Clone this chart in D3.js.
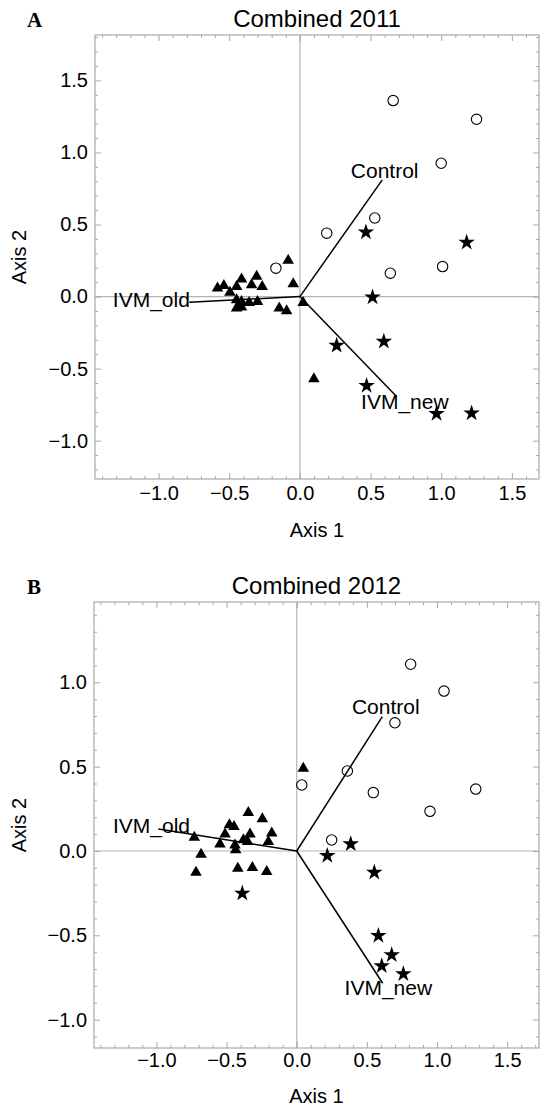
<!DOCTYPE html>
<html>
<head>
<meta charset="utf-8">
<script src="https://cdn.jsdelivr.net/npm/d3@7"></script>
<style>
  body { margin: 0; background: #fff; }
  text { font-family: "Liberation Sans", Arial, sans-serif; fill: #000; }
</style>
</head>
<body>
<script>
// ---- data (axis units) ----
const titles = ["Combined 2011", "Combined 2012"];
const panelLetters = ["A", "B"];
const xTicks = [-1.0, -0.5, 0.0, 0.5, 1.0, 1.5];
const yTicksA = [-1.0, -0.5, 0.0, 0.5, 1.0, 1.5];
const yTicksB = [-1.0, -0.5, 0.0, 0.5, 1.0];

// 2011: open circles, stars, triangles
const controlA = [[0.66, 1.36], [1.25, 1.23], [1.0, 0.925], [0.53, 0.545], [0.19, 0.44],
  [-0.17, 0.197], [0.64, 0.162], [1.01, 0.208]];
const ivmNewA = [[0.467, 0.447], [1.18, 0.375], [0.514, -0.004], [0.26, -0.34], [0.594, -0.312],
  [0.472, -0.619], [0.967, -0.813], [1.215, -0.809]];
const ivmOldA = [[-0.083, 0.25], [-0.047, 0.088], [-0.413, 0.12], [-0.306, 0.139], [-0.342, 0.081],
  [-0.267, 0.069], [-0.583, 0.058], [-0.538, 0.076], [-0.495, 0.028], [-0.448, 0.069],
  [-0.448, -0.023], [-0.413, -0.035], [-0.359, -0.042], [-0.3, -0.035], [-0.448, -0.08],
  [-0.413, -0.074], [-0.146, -0.08], [-0.094, -0.1], [0.023, -0.042], [0.099, -0.571]];
const vectorsA = [
  { name: "Control", x: 0.583, y: 0.81, lx: 0.60, ly: 0.874 },
  { name: "IVM_old", x: -0.783, y: -0.04, lx: -1.051, ly: -0.023 },
  { name: "IVM_new", x: 0.684, y: -0.693, lx: 0.743, ly: -0.73 }
];

// 2012
const controlB = [[0.812, 1.107], [1.05, 0.948], [0.70, 0.76], [0.361, 0.474], [0.036, 0.391],
  [0.546, 0.346], [1.276, 0.367], [0.95, 0.235], [0.249, 0.065]];
const ivmNewB = [[0.218, -0.028], [0.385, 0.041], [0.553, -0.127], [-0.388, -0.251],
  [0.582, -0.502], [0.677, -0.616], [0.606, -0.682], [0.76, -0.729]];
const ivmOldB = [[0.047, 0.49], [-0.345, 0.227], [-0.245, 0.19], [-0.48, 0.154], [-0.447, 0.144],
  [-0.73, 0.081], [-0.682, -0.02], [-0.718, -0.127], [-0.547, 0.04], [-0.511, 0.1],
  [-0.44, 0.034], [-0.435, 0.006], [-0.38, 0.065], [-0.333, 0.1], [-0.35, 0.055],
  [-0.178, 0.105], [-0.202, 0.055], [-0.42, -0.103], [-0.316, -0.099], [-0.214, -0.123]];
const vectorsB = [
  { name: "Control", x: 0.61, y: 0.796, lx: 0.635, ly: 0.854 },
  { name: "IVM_old", x: -0.986, y: 0.13, lx: -1.035, ly: 0.154 },
  { name: "IVM_new", x: 0.613, y: -0.784, lx: 0.653, ly: -0.812 }
];

// ---- layout ----
const width = 542, height = 1108;
const svg = d3.select("body").append("svg")
    .attr("width", width)
    .attr("height", height);

const panels = [
  { title: titles[0], letter: panelLetters[0], left: 95, right: 539, top: 35, bottom: 479,
    xDomain: [-1.45, 1.692], yDomain: [-1.266, 1.815], yTicks: yTicksA, tickPad: 7, labelGap: 58,
    control: controlA, ivmNew: ivmNewA, ivmOld: ivmOldA, vectors: vectorsA },
  { title: titles[1], letter: panelLetters[1], left: 94, right: 539, top: 602, bottom: 1048,
    xDomain: [-1.445, 1.727], yDomain: [-1.168, 1.476], yTicks: yTicksB, tickPad: 5, labelGap: 55,
    control: controlB, ivmNew: ivmNewB, ivmOld: ivmOldB, vectors: vectorsB }
];

const frameColor = "#a8a8a8";
const fmt = d3.format(".1f");

function minorTicks(domain, majors) {
  const out = [];
  for (let i = Math.ceil(domain[0] * 10); i <= Math.floor(domain[1] * 10); i++) {
    const v = i / 10;
    if (!majors.some(m => Math.abs(m - v) < 1e-6)) out.push(v);
  }
  return out;
}

function styleAxis(sel) {
  sel.select(".domain").remove();
  sel.selectAll(".tick line").attr("stroke", frameColor);
  sel.selectAll(".tick text").style("font-size", "20px").attr("fill", "#000");
}

function drawPanel(p) {
  const g = svg.append("g");
  const x = d3.scaleLinear().domain(p.xDomain).range([p.left, p.right]);
  const y = d3.scaleLinear().domain(p.yDomain).range([p.bottom, p.top]);

  // zero lines
  g.append("line")
      .attr("x1", x(0)).attr("x2", x(0))
      .attr("y1", p.top).attr("y2", p.bottom)
      .attr("stroke", "#b4b4b4").attr("stroke-width", 1.2);
  g.append("line")
      .attr("x1", p.left).attr("x2", p.right)
      .attr("y1", y(0)).attr("y2", y(0))
      .attr("stroke", "#b4b4b4").attr("stroke-width", 1.2);

  // ticks on all four sides, pointing in
  const xMinor = minorTicks(p.xDomain, xTicks);
  const yMinor = minorTicks(p.yDomain, p.yTicks);

  g.append("g").attr("transform", `translate(0,${p.bottom})`)
      .call(d3.axisBottom(x).tickValues(xTicks).tickSize(-6).tickPadding(p.tickPad).tickFormat(fmt))
      .call(styleAxis);
  g.append("g").attr("transform", `translate(0,${p.bottom})`)
      .call(d3.axisBottom(x).tickValues(xMinor).tickSize(-3).tickFormat(""))
      .call(styleAxis);
  g.append("g").attr("transform", `translate(0,${p.top})`)
      .call(d3.axisTop(x).tickValues(xTicks).tickSize(-6).tickFormat(""))
      .call(styleAxis);
  g.append("g").attr("transform", `translate(0,${p.top})`)
      .call(d3.axisTop(x).tickValues(xMinor).tickSize(-3).tickFormat(""))
      .call(styleAxis);

  g.append("g").attr("transform", `translate(${p.left},0)`)
      .call(d3.axisLeft(y).tickValues(p.yTicks).tickSize(-6).tickPadding(7).tickFormat(fmt))
      .call(styleAxis);
  g.append("g").attr("transform", `translate(${p.left},0)`)
      .call(d3.axisLeft(y).tickValues(yMinor).tickSize(-3).tickFormat(""))
      .call(styleAxis);
  g.append("g").attr("transform", `translate(${p.right},0)`)
      .call(d3.axisRight(y).tickValues(p.yTicks).tickSize(-6).tickFormat(""))
      .call(styleAxis);
  g.append("g").attr("transform", `translate(${p.right},0)`)
      .call(d3.axisRight(y).tickValues(yMinor).tickSize(-3).tickFormat(""))
      .call(styleAxis);

  // points
  g.append("g").selectAll("circle")
    .data(p.control)
    .enter().append("circle")
      .attr("cx", d => x(d[0]))
      .attr("cy", d => y(d[1]))
      .attr("r", 5.2)
      .attr("fill", "none")
      .attr("stroke", "#000")
      .attr("stroke-width", 1.1);

  const tri = d3.symbol().type(d3.symbolTriangle).size(58);
  g.append("g").selectAll("path")
    .data(p.ivmOld)
    .enter().append("path")
      .attr("d", tri)
      .attr("transform", d => `translate(${x(d[0])},${y(d[1])})`)
      .attr("fill", "#000");

  const star = d3.symbol().type(d3.symbolStar).size(85);
  g.append("g").selectAll("path")
    .data(p.ivmNew)
    .enter().append("path")
      .attr("d", star)
      .attr("transform", d => `translate(${x(d[0])},${y(d[1])})`)
      .attr("fill", "#000");

  // biplot vectors
  g.append("g").selectAll("line")
    .data(p.vectors)
    .enter().append("line")
      .attr("x1", x(0)).attr("y1", y(0))
      .attr("x2", d => x(d.x)).attr("y2", d => y(d.y))
      .attr("stroke", "#000")
      .attr("stroke-width", 1.5);

  g.append("g").selectAll("text")
    .data(p.vectors)
    .enter().append("text")
      .attr("x", d => x(d.lx))
      .attr("y", d => y(d.ly))
      .attr("text-anchor", "middle")
      .attr("dominant-baseline", "central")
      .style("font-size", "21px")
      .text(d => d.name);

  // frame
  g.append("rect")
      .attr("x", p.left).attr("y", p.top)
      .attr("width", p.right - p.left).attr("height", p.bottom - p.top)
      .attr("fill", "none")
      .attr("stroke", frameColor)
      .attr("stroke-width", 1.2);

  // titles and axis labels
  const cx = (p.left + p.right) / 2;
  g.append("text")
      .attr("x", cx).attr("y", p.top - 8)
      .attr("text-anchor", "middle")
      .style("font-size", "24px")
      .text(p.title);

  g.append("text")
      .attr("x", 27).attr("y", p.top - 8)
      .style("font-family", "'Liberation Serif', 'DejaVu Serif', serif")
      .style("font-weight", "bold")
      .style("font-size", "21px")
      .text(p.letter);

  g.append("text")
      .attr("x", cx).attr("y", p.bottom + p.labelGap)
      .attr("text-anchor", "middle")
      .style("font-size", "20px")
      .text("Axis 1");

  g.append("text")
      .attr("transform", `translate(26,${(p.top + p.bottom) / 2}) rotate(-90)`)
      .attr("text-anchor", "middle")
      .style("font-size", "20px")
      .text("Axis 2");
}

panels.forEach(drawPanel);
</script>
</body>
</html>
